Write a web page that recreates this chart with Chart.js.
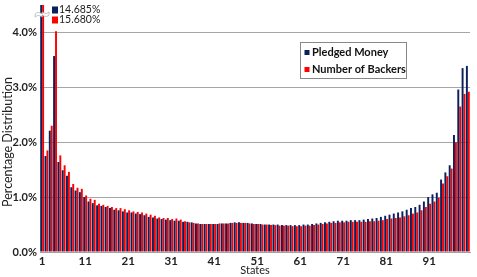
<!DOCTYPE html>
<html><head><meta charset="utf-8">
<script src="https://cdn.jsdelivr.net/npm/chart.js@4.4.1/dist/chart.umd.min.js"></script>
<style>html,body{margin:0;padding:0;background:#fff}</style>
</head><body>
<canvas id="c" width="477" height="277"></canvas>
<script>
const states = ["1","2","3","4","5","6","7","8","9","10","11","12","13","14","15","16","17","18","19","20",
"21","22","23","24","25","26","27","28","29","30","31","32","33","34","35","36","37","38","39","40",
"41","42","43","44","45","46","47","48","49","50","51","52","53","54","55","56","57","58","59","60",
"61","62","63","64","65","66","67","68","69","70","71","72","73","74","75","76","77","78","79","80",
"81","82","83","84","85","86","87","88","89","90","91","92","93","94","95","96","97","98","99","100"];

const pledgedMoney = [14.685,1.75,2.21,3.57,1.64,1.49,1.39,1.18,1.12,1.09,
1.00,0.92,0.89,0.85,0.84,0.82,0.80,0.77,0.76,0.74,
0.72,0.72,0.70,0.69,0.67,0.64,0.63,0.61,0.60,0.59,
0.58,0.57,0.57,0.55,0.55,0.54,0.52,0.51,0.51,0.51,
0.51,0.51,0.52,0.52,0.53,0.54,0.54,0.53,0.53,0.52,
0.51,0.51,0.50,0.50,0.50,0.50,0.49,0.49,0.49,0.49,
0.49,0.50,0.50,0.51,0.52,0.53,0.54,0.55,0.56,0.57,
0.57,0.57,0.58,0.58,0.58,0.59,0.60,0.61,0.62,0.64,
0.66,0.68,0.70,0.72,0.74,0.77,0.80,0.82,0.86,0.92,
1.00,1.05,1.08,1.32,1.45,1.58,2.13,2.96,3.35,3.39];

const numberOfBackers = [15.680,1.85,2.30,4.02,1.76,1.58,1.46,1.24,1.17,1.15,
1.03,0.97,0.95,0.88,0.86,0.84,0.82,0.80,0.80,0.78,
0.76,0.74,0.73,0.72,0.70,0.68,0.66,0.63,0.62,0.62,
0.60,0.61,0.59,0.56,0.54,0.53,0.52,0.51,0.51,0.51,
0.51,0.52,0.52,0.52,0.53,0.53,0.53,0.53,0.52,0.51,
0.51,0.50,0.50,0.49,0.49,0.48,0.48,0.48,0.47,0.47,
0.47,0.48,0.48,0.49,0.50,0.51,0.52,0.53,0.53,0.54,
0.54,0.55,0.55,0.55,0.55,0.55,0.56,0.56,0.57,0.58,
0.60,0.61,0.62,0.63,0.65,0.67,0.70,0.72,0.76,0.82,
0.88,0.92,0.99,1.25,1.38,1.52,2.00,2.65,2.88,2.92];

const seriesNames = ["Pledged Money","Number of Backers"];
const seriesColors = ["#0b1f5c","#ff0000"];
const yTicks = [0,1,2,3,4];
const yAxisTitle = "Percentage Distribution";
const xAxisTitle = "States";

const FONT = "Lato, 'Open Sans', sans-serif";

const extras = {
  id: 'extras',
  afterDatasetsDraw(chart) {
    const ctx = chart.ctx;
    // axis break across first category
    const meta0 = chart.getDatasetMeta(0).data[0];
    const meta1 = chart.getDatasetMeta(1).data[0];
    const x0 = meta0.x - meta0.width/2 - 5, x1 = meta1.x + meta1.width/2 + 5;
    const yb = 14;
    ctx.save();
    ctx.beginPath();
    ctx.moveTo(x0, yb);
    ctx.bezierCurveTo(x0+4, yb-4, x0+8, yb+2, (x0+x1)/2, yb-1);
    ctx.bezierCurveTo(x1-8, yb-4, x1-4, yb+2, x1, yb-2);
    ctx.lineTo(x1, yb+1);
    ctx.bezierCurveTo(x1-4, yb+5, x1-8, yb-1, (x0+x1)/2, yb+2);
    ctx.bezierCurveTo(x0+8, yb+5, x0+4, yb-1, x0, yb+3);
    ctx.closePath();
    ctx.fillStyle = '#fff';
    ctx.fill();
    ctx.strokeStyle = '#b0b0b0';
    ctx.lineWidth = 0.8;
    ctx.stroke();
    // values of the broken bars
    ctx.font = "10.5px " + FONT;
    ctx.textBaseline = 'middle';
    ctx.textAlign = 'left';
    const vals = [pledgedMoney[0], numberOfBackers[0]];
    for (let i = 0; i < 2; i++) {
      const cy = 10 + i*10;
      ctx.fillStyle = seriesColors[i];
      ctx.fillRect(52, cy-3.5, 6, 7);
      ctx.fillStyle = '#222';
      ctx.fillText(vals[i].toFixed(3) + '%', 59, cy);
    }
    // legend box
    const lx = 300.5, ly = 42.5, lw = 106, lh = 36;
    ctx.fillStyle = '#fff';
    ctx.fillRect(lx, ly, lw, lh);
    ctx.strokeStyle = '#888';
    ctx.lineWidth = 1;
    ctx.strokeRect(lx, ly, lw, lh);
    ctx.font = "bold 11px " + FONT;
    for (let i = 0; i < 2; i++) {
      const cy = 52.5 + i*17;
      ctx.fillStyle = seriesColors[i];
      ctx.fillRect(304.5, cy-2.5, 5, 5);
      ctx.fillStyle = '#111';
      ctx.fillText(seriesNames[i], 312, cy);
    }
    // y axis title
    ctx.save();
    ctx.translate(8, 142);
    ctx.rotate(-Math.PI/2);
    ctx.textAlign = 'center';
    ctx.font = "12.5px " + FONT;
    ctx.fillStyle = '#222';
    ctx.fillText(yAxisTitle, 0, 0);
    ctx.restore();
    ctx.restore();
  }
};

new Chart(document.getElementById('c'), {
  type: 'bar',
  data: {
    labels: states,
    datasets: [
      { label: seriesNames[0], data: pledgedMoney, backgroundColor: seriesColors[0], barPercentage: 1.0, categoryPercentage: 0.9 },
      { label: seriesNames[1], data: numberOfBackers, backgroundColor: seriesColors[1], barPercentage: 1.0, categoryPercentage: 0.9 }
    ]
  },
  options: {
    responsive: false,
    animation: false,
    layout: { padding: { top: 5, right: 7, left: 0, bottom: 0 } },
    plugins: { legend: { display: false }, tooltip: { enabled: false } },
    scales: {
      x: {
        grid: { display: false, drawTicks: false },
        border: { display: true, color: '#a0a0a0' },
        ticks: {
          autoSkip: false, maxRotation: 0, minRotation: 0, padding: 2,
          font: { family: FONT, size: 11.5, weight: 'bold' }, color: '#222',
          callback: (v, i) => (i % 10 === 0 ? states[i] : '')
        },
        title: { display: true, text: xAxisTitle, font: { family: FONT, size: 11 }, color: '#222', padding: { top: 0, bottom: 0 } },
        afterFit: s => { s.height = 25; s.paddingLeft = 0; s.paddingRight = 0; }
      },
      y: {
        min: 0, max: 4.5,
        grid: { color: '#a6a6a6', drawTicks: false, lineWidth: 1 },
        border: { display: false },
        afterBuildTicks: s => { s.ticks = yTicks.map(v => ({ value: v })); },
        ticks: {
          padding: 3,
          font: { family: FONT, size: 11, weight: 'bold' }, color: '#222',
          callback: v => v.toFixed(1) + '%'
        },
        afterFit: s => { s.width = 40; s.paddingTop = 0; s.paddingBottom = 0; }
      }
    }
  },
  plugins: [extras]
});
</script>
</body></html>
